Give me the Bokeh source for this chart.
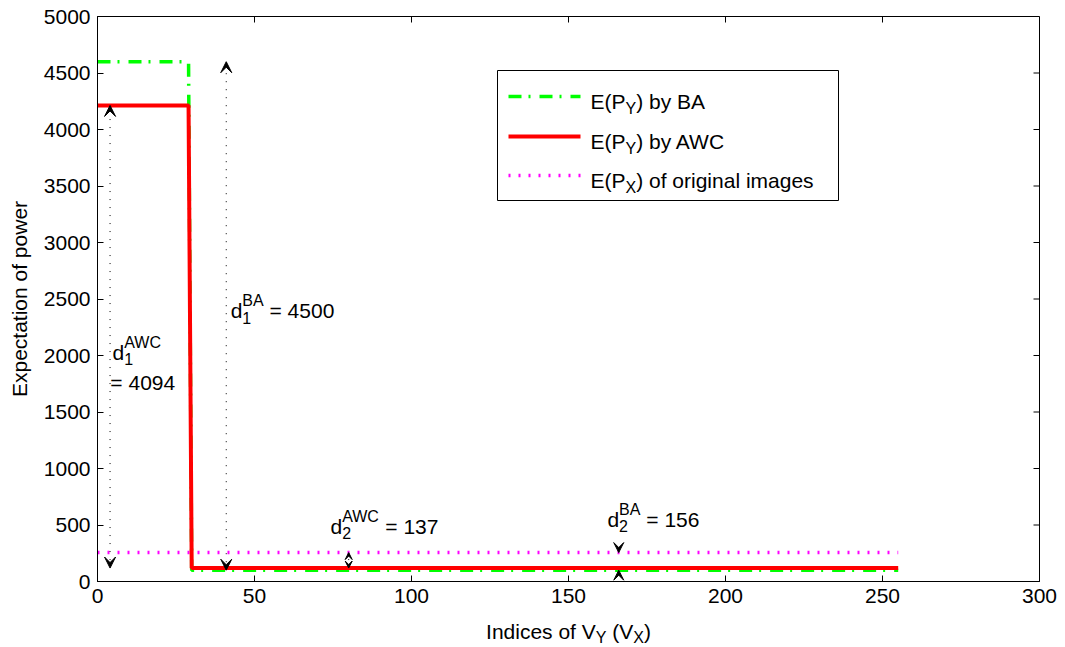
from bokeh.plotting import figure
from bokeh.layouts import column
from bokeh.models import (Label, Arrow, VeeHead, BoxAnnotation, FixedTicker, Range1d)
from bokeh.embed import file_html
from bokeh.resources import INLINE

# ---------------- data ----------------
idx_breaks = [0, 29, 30, 255]            # indices of V_Y where the curves change
ba_power = [4600, 4600, 100, 100]         # E(P_Y) by BA
awc_power = [4213, 4213, 119, 119]        # E(P_Y) by AWC
orig_idx = [0, 255]
orig_power = [256, 256]                   # E(P_X) of original images

x_ticks = [0, 50, 100, 150, 200, 250, 300]
y_ticks = [0, 500, 1000, 1500, 2000, 2500, 3000, 3500, 4000, 4500, 5000]

d1_awc = 4094
d1_ba = 4500
d2_awc = 137
d2_ba = 156

FONT = "Liberation Sans"
FS = 21
SUB = 16

XMAX, YMAX = 300, 5000
FRAME_W, FRAME_H = 942, 565

p = figure(width=1065, height=612, x_range=Range1d(0, XMAX), y_range=Range1d(0, YMAX),
           output_backend="svg", toolbar_location=None,
           min_border_left=97, min_border_right=26, min_border_top=16, min_border_bottom=31)
p.background_fill_color = "white"
p.border_fill_color = "white"
p.outline_line_color = "black"
p.outline_line_width = 1
p.xgrid.visible = False
p.ygrid.visible = False

for ax in (p.xaxis[0], p.yaxis[0]):
    ax.major_tick_in = 6
    ax.major_tick_out = 0
    ax.minor_tick_line_color = None
    ax.axis_line_color = "black"
    ax.major_tick_line_color = "black"
    ax.major_label_text_font = FONT
    ax.major_label_text_font_size = f"{FS}px"
    ax.major_label_text_color = "black"
    ax.major_label_standoff = 7
p.xaxis.ticker = FixedTicker(ticks=x_ticks)
p.yaxis.ticker = FixedTicker(ticks=y_ticks)
p.yaxis.axis_label = "Expectation of power"
p.yaxis.axis_label_text_font = FONT
p.yaxis.axis_label_text_font_size = f"{FS}px"
p.yaxis.axis_label_text_font_style = "normal"
p.yaxis.axis_label_text_color = "black"
p.yaxis.axis_label_standoff = 10


def sx(v):  # screen px from frame left -> data x
    return XMAX * v / FRAME_W


def sy(v):  # screen px from frame bottom -> data y
    return YMAX * v / FRAME_H


# mirrored inward ticks on the top and right edges of the box
TL = 6
p.segment(x0=x_ticks, y0=[YMAX] * len(x_ticks), x1=x_ticks, y1=[YMAX - sy(TL)] * len(x_ticks),
          line_color="black", line_width=1)
p.segment(x0=[XMAX] * len(y_ticks), y0=y_ticks, x1=[XMAX - sx(TL)] * len(y_ticks), y1=y_ticks,
          line_color="black", line_width=1)

# ---------------- data lines ----------------
MAG_DASH = "2 8"
p.line(orig_idx, orig_power, line_color="#FF00FF", line_width=3.5, line_dash=MAG_DASH)
p.line(idx_breaks, ba_power, line_color="#00FF00", line_width=3.5, line_dash="13 7 2 9")
p.line(idx_breaks, awc_power, line_color="#FF0000", line_width=4)


# ---------------- arrows ----------------
def head(size=10):
    return VeeHead(size=size, fill_color="black", fill_alpha=1, line_color="black", line_width=1)


def darrow(x, y0, y1, size=11):
    p.add_layout(Arrow(x_start=x, y_start=y0, x_end=x, y_end=y1,
                       start=head(size), end=head(size),
                       line_color="black", line_width=1, line_dash="1 7"))


darrow(4, awc_power[-1], awc_power[0])
darrow(41, ba_power[-1], ba_power[0])
darrow(80, awc_power[-1], orig_power[0], size=7)
p.add_layout(Arrow(x_start=166, y_start=orig_power[0] + sy(11), x_end=166, y_end=orig_power[0],
                   end=head(10), line_color="black", line_width=1, line_alpha=0))
p.add_layout(Arrow(x_start=166, y_start=ba_power[-1] - sy(11), x_end=166, y_end=ba_power[-1],
                   end=head(10), line_color="black", line_width=1, line_alpha=0))

# ---------------- rich text helper ----------------
W = {' ': 278, '(': 333, ')': 333, '=': 584, 'A': 667, 'B': 667, 'C': 722, 'E': 667,
     'I': 278, 'P': 667, 'V': 667, 'W': 944, 'X': 667, 'Y': 667, 'a': 556, 'b': 556,
     'c': 500, 'd': 556, 'e': 556, 'f': 278, 'g': 556, 'i': 222, 'l': 222, 'm': 833,
     'n': 556, 'o': 556, 'r': 333, 's': 500, 't': 278, 'h': 556, 'p': 556, 'w': 722,
     'x': 500, 'y': 500}


def tw(s, size):
    return sum(W.get(c, 556) for c in s) * size / 1000.0


def rich(fig, parts, x, y, xu="data", yu="data", align="left"):
    """parts: list of tokens; token = (text, size, dy) or list of such (stacked)."""
    total = 0.0
    for tok in parts:
        if isinstance(tok, list):
            total += max(tw(t, s) for t, s, d in tok)
        else:
            total += tw(tok[0], tok[1])
    off = -total / 2 if align == "center" else 0.0
    for tok in parts:
        group = tok if isinstance(tok, list) else [tok]
        adv = 0.0
        for t, s, d in group:
            lead = len(t) - len(t.lstrip(' '))
            shift = tw(t[:lead], s)
            txt = t.strip(' ')
            if txt:
                fig.add_layout(Label(x=x, y=y, x_units=xu, y_units=yu, x_offset=off + shift,
                                     y_offset=d, text=txt, text_font=FONT,
                                     text_font_size=f"{s}px", text_color="black",
                                     text_baseline="alphabetic", text_align="left"))
            adv = max(adv, tw(t, s))
        off += adv


SUP, SUBD = 10, -7

rich(p, [("d", FS, 0), [("AWC", SUB, SUP), ("1", SUB, SUBD)]], 4.8, 2027)
rich(p, [("= " + str(d1_awc), FS, 0)], 4.1, 1761)
rich(p, [("d", FS, 0), [("BA", SUB, SUP), ("1", SUB, SUBD)], (" = " + str(d1_ba), FS, 0)], 42.4, 2398)
rich(p, [("d", FS, 0), [("AWC", SUB, SUP), ("2", SUB, SUBD)], (" = " + str(d2_awc), FS, 0)], 74.2, 487)
rich(p, [("d", FS, 0), [("BA", SUB, SUP), ("2", SUB, SUBD)], (" = " + str(d2_ba), FS, 0)], 162.4, 549)

# ---------------- legend (manual, for subscripts) ----------------
p.add_layout(BoxAnnotation(left=sx(400), right=sx(741), bottom=sy(381), top=sy(511),
                           fill_color="white", fill_alpha=1, line_color="black",
                           line_alpha=1, line_width=1))
rows = [
    ("#00FF00", 3.5, "13 7 2 9", 485, 480, [("E(P", FS, 0), [("Y", SUB, -7)], (") by BA", FS, 0)]),
    ("#FF0000", 4, "solid", 445, 440, [("E(P", FS, 0), [("Y", SUB, -7)], (") by AWC", FS, 0)]),
    ("#FF00FF", 3.5, MAG_DASH, 406, 401, [("E(P", FS, 0), [("X", SUB, -7)], (") of original images", FS, 0)]),
]
for col, lw, dash, ly, ty, parts in rows:
    p.line([sx(411), sx(483)], [sy(ly), sy(ly)], line_color=col, line_width=lw,
           line_dash=dash, level="overlay")
    rich(p, parts, sx(493), sy(ty))

# ---------------- x axis label strip (own frame so the text is not clipped) ----------------
lab = figure(width=1065, height=35, x_range=p.x_range, y_range=Range1d(0, 35),
             output_backend="svg", toolbar_location=None,
             min_border_left=97, min_border_right=26, min_border_top=0, min_border_bottom=0)
lab.axis.visible = False
lab.grid.visible = False
lab.outline_line_color = None
lab.background_fill_color = "white"
lab.border_fill_color = "white"
rich(lab, [("Indices of V", FS, 0), [("Y", SUB, -6)], (" (V", FS, 0), [("X", SUB, -6)], (")", FS, 0)],
     150, 16, align="center")

layout = column(p, lab, spacing=0)
open("out.html", "w").write(file_html(layout, INLINE))
